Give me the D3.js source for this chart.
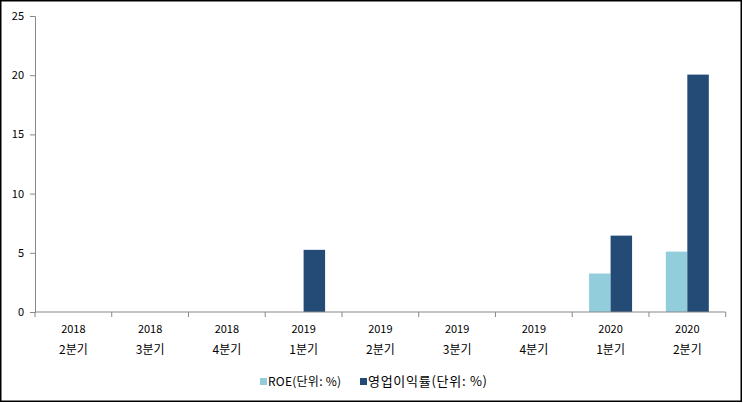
<!DOCTYPE html>
<html><head><meta charset="utf-8">
<script src="https://cdn.jsdelivr.net/npm/d3@7"></script>
<style>body{margin:0;background:#fff}svg{display:block}</style>
</head><body>
<svg id="c" width="743" height="403"></svg>
<script>
const years = ["2018","2018","2018","2019","2019","2019","2019","2020","2020"];
const quarters = ["2분기","3분기","4분기","1분기","2분기","3분기","4분기","1분기","2분기"];
const roe = [0,0,0,0,0,0,0,3.25,5.1];
const opMargin = [0,0,0,5.25,0,0,0,6.45,20.05];
const yTicks = [0,5,10,15,20,25];
const seriesNames = ["ROE(단위: %)","영업이익률(단위: %)"];
const colors = ["#92CDDC","#234B75"];

(function(){
const svg = d3.select("#c");
const font = "'Noto Sans CJK KR', 'DejaVu Sans', sans-serif";
svg.append("rect").attr("x",0.75).attr("y",0.75).attr("width",740.5).attr("height",400.5)
  .attr("fill","#fff").attr("stroke","#000").attr("stroke-width",1.5);

const pl=35, pr=725.7, pt=16, pb=312;
const x = d3.scaleBand().domain(d3.range(years.length)).range([pl,pr]).paddingInner(0).paddingOuter(0);
const y = d3.scaleLinear().domain([0,25]).range([pb,pt]);
const inner = d3.scaleBand().domain([0,1]).range([x.bandwidth()*0.22, x.bandwidth()*0.78]);

const g = svg.append("g");
const data = [roe, opMargin];
data.forEach((vals,si)=>{
  g.selectAll(".b"+si).data(vals).enter().append("rect")
    .attr("x",(d,i)=>x(i)+inner(si))
    .attr("width",inner.bandwidth())
    .attr("y",d=>y(d))
    .attr("height",d=>pb-y(d))
    .attr("fill",colors[si]);
});

const ya = svg.append("g").attr("transform",`translate(${pl},0)`)
  .call(d3.axisLeft(y).tickValues(yTicks).tickSize(5).tickPadding(6));
ya.select(".domain").attr("stroke","#888");
ya.selectAll(".tick line").attr("stroke","#888");
ya.selectAll("text").attr("font-family",font).attr("font-size",11).attr("fill","#000");

const xa = svg.append("g").attr("transform",`translate(0,${pb})`);
xa.append("line").attr("x1",pl).attr("x2",pr).attr("stroke","#888");
d3.range(years.length+1).forEach(i=>{
  const xx = pl + i*x.step();
  xa.append("line").attr("x1",xx).attr("x2",xx).attr("y1",0).attr("y2",5).attr("stroke","#888");
});
years.forEach((yr,i)=>{
  const cx = x(i)+x.bandwidth()/2;
  svg.append("text").attr("x",cx).attr("y",333).attr("text-anchor","middle")
    .attr("font-family",font).attr("font-size",11).text(yr);
  svg.append("text").attr("x",cx).attr("y",354).attr("text-anchor","middle")
    .attr("font-family",font).attr("font-size",12).text(quarters[i]);
});

const lx = [260, 360];
const lw = [73, 119];
const lfs = [12, 13];
seriesNames.forEach((n,i)=>{
  svg.append("rect").attr("x",lx[i]).attr("y",378).attr("width",7).attr("height",7).attr("fill",colors[i]);
  svg.append("text").attr("x",lx[i]+8).attr("y",386).attr("font-family",font)
    .attr("font-size",lfs[i]).attr("textLength",lw[i]).attr("lengthAdjust","spacing").text(n);
});
})();
</script>
</body></html>
